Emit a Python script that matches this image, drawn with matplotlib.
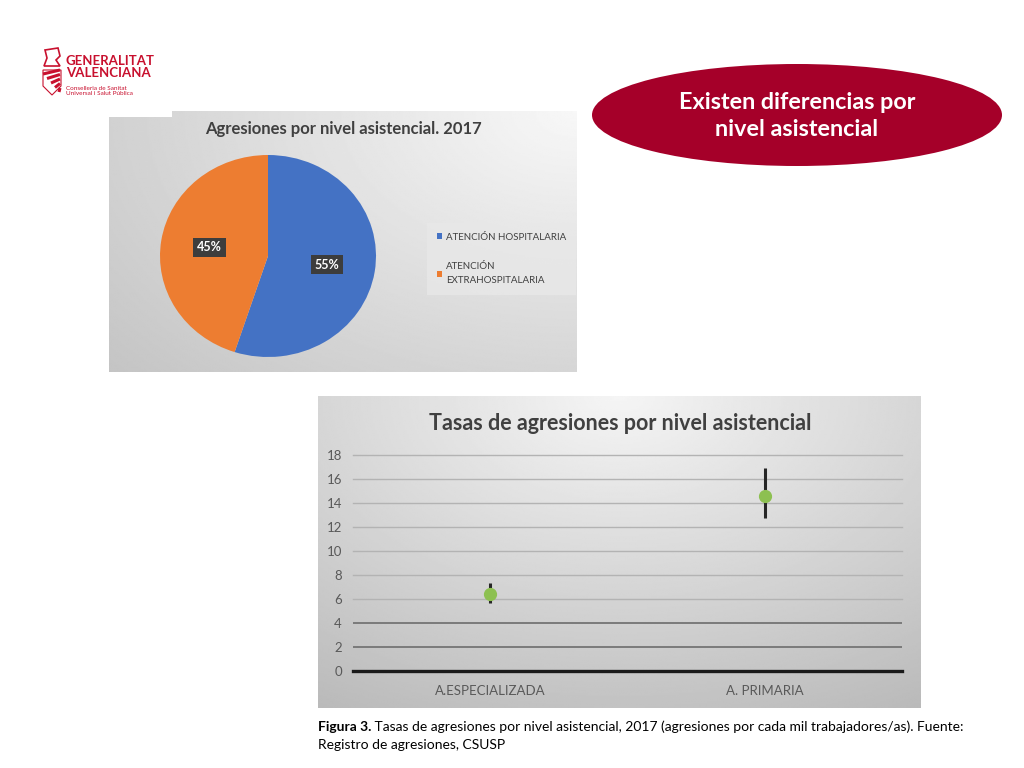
import numpy as np
import matplotlib
matplotlib.use("Agg")
import matplotlib.pyplot as plt
from matplotlib.patches import Ellipse, Rectangle, Polygon

plt.rcParams['font.family'] = ['Lato', 'DejaVu Sans']

# pie data
pie_title = "Agresiones por nivel asistencial. 2017"
pie_labels = ["ATENCIÓN HOSPITALARIA", "ATENCIÓN\nEXTRAHOSPITALARIA"]
pie_values = [55, 45]
pie_colors = ["#4472C4", "#ED7D31"]

# rate chart data (agresiones por cada mil trabajadores/as)
rate_title = "Tasas de agresiones por nivel asistencial"
rate_cats = ["A.ESPECIALIZADA", "A. PRIMARIA"]
rate_vals = [6.4, 14.6]
rate_low = [5.7, 12.75]
rate_high = [7.3, 16.95]
rate_ticks = [0, 2, 4, 6, 8, 10, 12, 14, 16, 18]

W, H = 1024, 768


def box(x0, y0, x1, y1):
    # pixel box (top-left origin) -> figure fraction
    return [x0 / W, 1 - y1 / H, (x1 - x0) / W, (y1 - y0) / H]


fig = plt.figure(figsize=(W / 100, H / 100), dpi=100)
fig.patch.set_facecolor("white")

bg = fig.add_axes([0, 0, 1, 1], zorder=0)
bg.set_xlim(0, W)
bg.set_ylim(H, 0)
bg.axis("off")

# --- logo ---
red = "#C8102E"
bg.text(66, 67, "GENERALITAT\nVALENCIANA", color=red, fontsize=9.5, fontweight="bold",
        va="center", ha="left", linespacing=0.95)
bg.text(66, 91, "Conselleria de Sanitat\nUniversal i Salut Pública", color=red, fontsize=4.6,
        va="center", ha="left", linespacing=1.0)
bg.add_patch(Polygon([[45, 50], [58, 48], [60, 56], [56, 60], [60, 66], [44, 66], [47, 58]],
                     closed=True, fill=False, edgecolor=red, lw=1.2))
for k in range(5):
    bg.plot([43 + k * 4, 60], [74 + k * 4.5, 70 + k * 4.5], color=red, lw=2.2,
            solid_capstyle="butt")
bg.add_patch(Polygon([[43, 70], [61, 70], [61, 86], [52, 95], [43, 86]], closed=True,
                     fill=False, edgecolor=red, lw=0.8))

# --- red ellipse ---
bg.add_patch(Ellipse((797, 115), 410, 102, facecolor="#A50029", edgecolor="none"))
bg.text(797, 116, "Existen diferencias por\nnivel asistencial", color="white", fontsize=16.8,
        fontweight="bold", ha="center", va="center", linespacing=1.4)

# --- pie panel background (gradient, lighter top right) ---
yy, xx = np.mgrid[0:1:200j, 0:1:300j]
g1 = 0.97 - 0.20 * np.sqrt(((1 - xx) * 0.9) ** 2 + (yy * 0.8) ** 2) / 1.2
bg.imshow(g1, cmap="gray", vmin=0, vmax=1, extent=[109, 577, 372, 111], aspect="auto",
          interpolation="bilinear", zorder=1)
bg.add_patch(Rectangle((105, 105), 67, 12, facecolor="white", edgecolor="none", zorder=2))
bg.text(343, 129, pie_title, fontsize=12, fontweight="bold", color="#404040",
        ha="center", va="center", zorder=3)

# --- rate panel background (lighter at top centre) ---
yy, xx = np.mgrid[0:1:200j, 0:1:300j]
g2 = 0.96 - 0.22 * np.sqrt(((xx - 0.5) * 1.1) ** 2 + (yy * 0.9) ** 2)
bg.imshow(g2, cmap="gray", vmin=0, vmax=1, extent=[318, 921, 708, 396], aspect="auto",
          interpolation="bilinear", zorder=1)
bg.text(620, 423, rate_title, fontsize=15.5, fontweight="bold", color="#404040",
        ha="center", va="center", zorder=3)

# --- caption ---
t1 = bg.text(318, 727, "Figura 3.", fontsize=10, fontweight="bold", color="black",
             ha="left", va="center")
bg.annotate(" Tasas de agresiones por nivel asistencial, 2017 (agresiones por cada mil trabajadores/as). Fuente:",
            xy=(1, 0.5), xycoords=t1, fontsize=10, color="black", ha="left", va="center")
bg.text(318, 745, "Registro de agresiones, CSUSP", fontsize=10, color="black",
        ha="left", va="center")

# --- pie chart ---
ax1 = fig.add_axes(box(160, 155, 376, 357), zorder=2)
wedges, texts, autotexts = ax1.pie(pie_values, colors=pie_colors, startangle=90,
                                   counterclock=False, autopct="%d%%", pctdistance=0.55,
                                   wedgeprops=dict(linewidth=0))
ax1.set_aspect("auto")
ax1.set_xlim(-1, 1)
ax1.set_ylim(-1, 1)
for t in autotexts:
    t.set_color("white")
    t.set_fontweight("bold")
    t.set_fontsize(9)
    t.set_bbox(dict(boxstyle="square,pad=0.3", facecolor="#3d3d3d", edgecolor="none"))

leg = fig.legend(wedges, pie_labels, loc="upper left", bbox_to_anchor=(425 / W, 1 - 221 / H),
                 frameon=True, fontsize=7, handlelength=0.6, handleheight=0.6,
                 handletextpad=0.4, labelspacing=2.1, borderpad=0.7, labelcolor="#404040")
for t in leg.get_texts():
    t.set_linespacing(1.7)
leg.get_frame().set_facecolor("#e8e8e8")
leg.get_frame().set_edgecolor("none")
leg.get_frame().set_boxstyle("square")
leg.set_zorder(3)

# --- rate chart ---
ax2 = fig.add_axes(box(353, 455, 902, 671), zorder=2)
ax2.patch.set_alpha(0)
x = np.arange(len(rate_cats))
vals = np.array(rate_vals)
yerr = [vals - np.array(rate_low), np.array(rate_high) - vals]
ax2.errorbar(x, vals, yerr=yerr, fmt="none", ecolor="#262626", elinewidth=2.2, capsize=0,
             zorder=3)
ax2.plot(x, vals, "o", color="#8DC051", markersize=8.5, zorder=4)
ax2.set_xlim(-0.5, len(rate_cats) - 0.5)
ax2.set_ylim(0, 18)
ax2.set_yticks(rate_ticks)
for v in rate_ticks:
    if v == 0:
        ax2.axhline(v, color="#1a1a1a", lw=2.4, zorder=2, clip_on=False)
    elif v <= 4:
        ax2.axhline(v, color="#7a7a7a", lw=1.4, zorder=1)
    else:
        ax2.axhline(v, color="#b3b3b3", lw=1.0, zorder=1, clip_on=False)
ax2.set_xticks(x)
ax2.set_xticklabels(rate_cats)
ax2.tick_params(axis="both", length=0, labelsize=9.5, labelcolor="#595959")
ax2.tick_params(axis="x", pad=10)
ax2.tick_params(axis="y", pad=8)
for s in ax2.spines.values():
    s.set_visible(False)

fig.savefig("out.png", dpi=100)
